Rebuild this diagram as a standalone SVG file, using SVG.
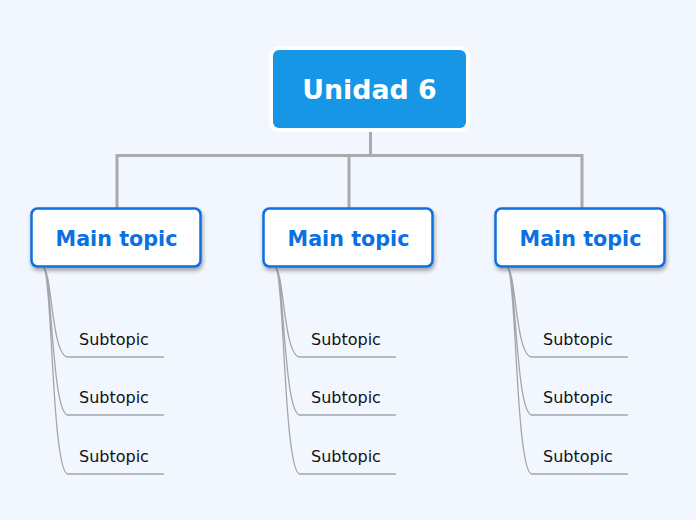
<svg xmlns="http://www.w3.org/2000/svg" width="696" height="520" viewBox="0 0 696 520">
<defs>
<filter id="sh" x="-10%" y="-10%" width="130%" height="140%"><feDropShadow dx="1" dy="3" stdDeviation="2" flood-color="#000" flood-opacity="0.35"/></filter>
<style>
.main rect{fill:#fff;stroke:#0b70e1;stroke-width:2.5;filter:url(#sh)}
.main text{font-family:"DejaVu Sans",sans-serif;font-weight:bold;font-size:20.7px;fill:#0b70e1;text-anchor:middle}
.sub text{font-family:"DejaVu Sans",sans-serif;font-size:16px;fill:#111;textLength:72px}
.br{fill:none;stroke:#a9aaab;stroke-width:3}
.sl{fill:none;stroke:#a2a6ad;stroke-width:1.3}
</style>
</defs>
<rect width="696" height="520" fill="#f2f6fe"/>
<g id="connectors">
<path class="br" d="M370.5,132 V155.5 M117,208 V155.5 H582 V208 M349,155.5 V208"/>
<g id="sublines">
<path class="sl" d="M44,268 C52,275 52,357 68,357 H164 M44,268 C52,275 52,415 68,415 H164 M44,268 C52,275 52,474 68,474 H164"/>
<path class="sl" d="M276,268 C284,275 284,357 300,357 H396 M276,268 C284,275 284,415 300,415 H396 M276,268 C284,275 284,474 300,474 H396"/>
<path class="sl" d="M508,268 C516,275 516,357 532,357 H628 M508,268 C516,275 516,415 532,415 H628 M508,268 C516,275 516,474 532,474 H628"/>
</g>
</g>
<g id="root">
<rect x="269" y="46" width="201" height="86" rx="9" fill="#fff"/>
<rect x="273" y="50" width="193" height="78" rx="6" fill="#1896e6"/>
<text x="369.5" y="99" font-family="DejaVu Sans, sans-serif" font-weight="bold" font-size="26.8" fill="#fff" text-anchor="middle">Unidad 6</text>
</g>
<g id="main1" class="main"><rect x="31.5" y="208.5" width="169" height="58" rx="6"/><text x="116.5" y="246">Main topic</text></g>
<g id="main2" class="main"><rect x="263.5" y="208.5" width="169" height="58" rx="6"/><text x="348.5" y="246">Main topic</text></g>
<g id="main3" class="main"><rect x="495.5" y="208.5" width="169" height="58" rx="6"/><text x="580.5" y="246">Main topic</text></g>
<g id="sub1a" class="sub"><text x="79" y="345">Subtopic</text></g>
<g id="sub1b" class="sub"><text x="79" y="403">Subtopic</text></g>
<g id="sub1c" class="sub"><text x="79" y="462">Subtopic</text></g>
<g id="sub2a" class="sub"><text x="311" y="345">Subtopic</text></g>
<g id="sub2b" class="sub"><text x="311" y="403">Subtopic</text></g>
<g id="sub2c" class="sub"><text x="311" y="462">Subtopic</text></g>
<g id="sub3a" class="sub"><text x="543" y="345">Subtopic</text></g>
<g id="sub3b" class="sub"><text x="543" y="403">Subtopic</text></g>
<g id="sub3c" class="sub"><text x="543" y="462">Subtopic</text></g>
</svg>
